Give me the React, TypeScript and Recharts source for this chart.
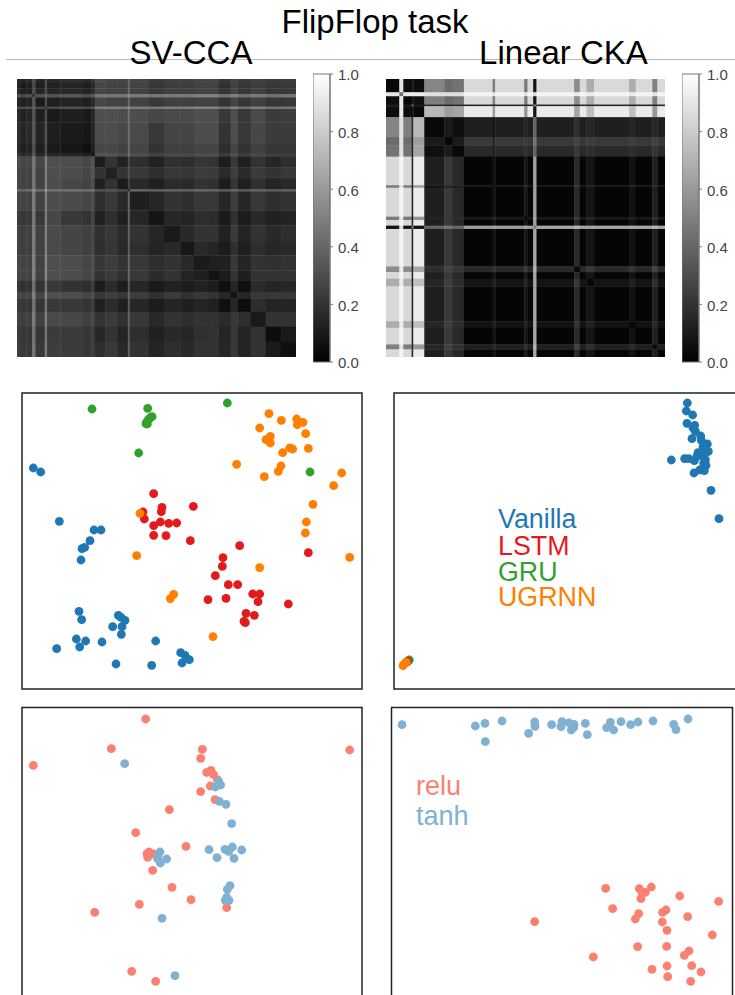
import React from "react";
import {
  ScatterChart, Scatter, XAxis, YAxis, ReferenceLine, BarChart, Bar,
} from "recharts";

// ---------- heat-map bands (in picture units along the matrix side) ----------
const ccaBands = [0, 12, 28, 45, 55, 83, 90, 130, 195, 222, 233, 265, 300, 332, 338, 395, 440, 490, 530, 575, 605, 640, 660, 700, 745, 790, 836];
const ccaUpper = [
  [16,14,16,30,15,30,16,18,16,20,30,28,28,42,28,23,26,26,28,28,21,28,23,26,23,24],
  [10,12,28,12,30,13,14,12,16,27,26,26,40,26,21,24,24,26,26,19,26,21,24,21,22],
  [12,30,14,30,15,16,14,18,28,26,26,42,26,22,25,25,26,26,20,27,21,25,21,22],
  [20,32,38,32,34,30,34,46,46,46,55,48,46,48,48,50,50,44,50,44,48,44,46],
  [10,30,12,14,12,16,28,26,26,42,26,22,25,25,26,26,20,27,21,25,21,22],
  [20,30,32,30,32,50,50,50,58,50,48,50,50,52,52,46,52,46,50,46,48],
  [10,12,10,15,31,31,30,44,30,28,29,29,31,31,22,31,22,29,23,24],
  [10,9,14,30,30,28,43,29,22,27,27,30,30,20,30,22,28,23,23],
  [6,12,28,28,26,42,27,20,25,25,27,27,18,27,20,25,21,21],
  [9,32,32,30,45,30,26,28,28,30,30,23,30,24,28,24,24],
  [11,20,13,30,18,13,19,18,21,20,11,22,12,20,15,18],
  [13,20,32,22,18,22,21,24,23,17,24,17,23,20,22],
  [10,28,16,12,17,16,20,19,11,21,12,19,14,16],
  [10,40,38,38,38,40,40,36,40,36,38,36,38],
  [12,15,20,18,22,22,15,24,15,22,18,20],
  [8,15,14,18,17,10,19,11,16,13,14],
  [10,16,20,20,13,23,14,20,16,18],
  [9,16,14,11,19,12,18,15,16],
  [10,12,13,22,14,20,19,20],
  [7,11,20,12,20,20,20],
  [6,15,6,17,14,15],
  [8,15,22,22,22],
  [5,18,14,14],
  [10,20,20],
  [5,10],
  [6],
];

const ckaBands = [0, 40, 52, 77, 82, 115, 175, 200, 234, 320, 328, 415, 425, 442, 452, 565, 582, 602, 625, 730, 750, 800, 815, 838];
const ckaUpper = [
  [3,90,5,10,5,52,42,45,85,50,85,48,85,8,85,55,85,68,85,68,85,50,85],
  [45,92,92,92,88,88,88,96,90,96,90,96,85,96,92,96,92,96,92,96,90,96],
  [3,8,6,50,42,45,85,50,85,48,85,8,85,55,85,68,85,68,85,50,85],
  [50,8,14,14,14,14,14,14,14,14,50,14,14,14,14,14,14,14,14,14],
  [3,72,62,65,92,62,92,58,92,8,92,65,92,75,92,75,92,60,92],
  [3,10,6,12,8,12,14,12,40,12,18,12,15,12,15,12,15,12],
  [3,10,22,14,22,22,22,45,22,26,22,24,22,24,22,25,22],
  [3,16,12,16,18,16,40,16,22,16,18,16,18,16,20,16],
  [2,7,2,9,2,62,2,16,2,8,2,7,2,12,2],
  [3,7,14,7,62,7,20,7,12,7,12,7,16,7],
  [2,9,2,62,2,16,2,8,2,7,2,12,2],
  [3,9,65,9,22,9,14,9,12,9,18,9],
  [2,62,2,16,2,8,2,7,2,12,2],
  [50,65,70,65,65,65,65,65,70,65],
  [2,16,2,8,2,7,2,12,2],
  [3,16,22,16,20,16,26,16],
  [2,8,2,7,2,12,2],
  [3,8,13,8,18,8],
  [2,7,2,12,2],
  [3,7,16,7],
  [2,12,2],
  [3,12],
  [2],
];

// ---------- scatter panels (x, y) ----------
const ccaVanilla = [[70,250],[92,262],[148,410],[252,436],[273,436],[240,468],[224,488],[216,492],[213,526],[207,680],[215,705],[325,692],[333,698],[345,707],[308,726],[336,726],[334,749],[199,763],[227,769],[209,787],[140,792],[276,772],[437,769],[512,804],[525,812],[538,825],[516,835],[318,838],[425,842]];
const ccaLstm = [[431,327],[456,368],[454,381],[399,382],[403,403],[451,412],[431,423],[476,416],[500,415],[550,365],[431,452],[468,453],[541,468],[689,483],[639,519],[637,545],[616,573],[655,600],[683,600],[895,504],[728,628],[749,628],[744,651],[835,658],[594,645],[648,641],[708,686],[733,692],[702,710],[706,714]];
const ccaGru = [[246,73],[413,71],[652,55],[426,96],[420,100],[415,105],[410,112],[408,117],[412,118],[386,205],[900,262]];
const ccaUgrnn = [[777,87],[814,107],[860,103],[879,113],[862,120],[749,130],[887,147],[781,155],[768,165],[776,163],[781,175],[895,191],[839,190],[848,193],[818,204],[813,244],[805,260],[680,239],[763,276],[995,265],[971,303],[909,359],[889,412],[886,445],[390,386],[380,513],[1019,518],[749,549],[491,629],[481,642],[609,756]];

const ckaVanilla = [[921,55],[918,79],[937,91],[920,116],[943,122],[938,130],[945,140],[961,154],[935,162],[963,167],[981,178],[968,186],[984,200],[953,204],[975,205],[964,212],[950,215],[873,226],[913,222],[925,222],[942,228],[975,225],[970,235],[977,242],[968,250],[958,256],[941,265],[992,317],[1016,402],[972,258]];
const ckaLstm = [[82,830],[76,835]];
const ckaGru = [[87,826],[83,829]];
const ckaUgrnn = [[68,843],[72,838],[78,833]];

const ccaRelu = [[407,58],[304,147],[577,149],[572,176],[70,197],[1019,151],[590,218],[603,212],[610,224],[622,240],[601,259],[572,276],[615,300],[478,330],[377,399],[528,440],[411,462],[417,457],[430,463],[413,473],[428,512],[486,563],[543,600],[388,614],[254,638],[650,624],[365,815],[437,845]];
const ccaTanh = [[344,192],[626,245],[632,256],[616,262],[628,305],[648,314],[665,372],[597,450],[645,449],[656,455],[667,442],[695,451],[621,474],[672,476],[450,457],[444,470],[470,478],[451,490],[443,478],[660,558],[652,569],[650,593],[657,602],[646,602],[456,656],[495,828]];

const ckaTanh = [[67,75],[287,79],[316,71],[367,64],[317,126],[447,101],[465,67],[466,80],[516,75],[547,66],[544,81],[568,70],[583,74],[582,83],[575,91],[617,71],[623,105],[681,84],[692,68],[702,91],[724,66],[753,75],[775,67],[820,64],[882,74],[889,90],[925,58]];
const ckaRelu = [[678,566],[779,567],[815,562],[797,578],[787,577],[784,597],[900,589],[1017,605],[699,627],[777,642],[767,658],[849,638],[859,631],[848,667],[924,651],[862,692],[465,666],[998,706],[774,741],[861,740],[928,754],[914,767],[641,772],[936,798],[862,799],[817,809],[964,817],[864,831],[933,845]];

const colorbarTicks = [0, 0.2, 0.4, 0.6, 0.8, 1];
const colorbarRow = [{ name: "scale", full: 1 }];

const BLUE = "#1f78b4";
const RED = "#e31a1c";
const GREEN = "#33a02c";
const ORANGE = "#ff7f00";
const SALMON = "#fb8072";
const STEEL = "#80b1d3";
const FONT = "'Liberation Sans', Arial, sans-serif";

const toCells = (bounds: number[], upper: number[][]) => {
  const cells: any[] = [];
  const n = bounds.length - 1;
  for (let r = 0; r < n; r++) {
    for (let c = 0; c < n; c++) {
      const v = r <= c ? upper[r][c - r] : upper[c][r - c];
      cells.push({
        x: (bounds[c] + bounds[c + 1]) / 2,
        y: (bounds[r] + bounds[r + 1]) / 2,
        w: bounds[c + 1] - bounds[c],
        h: bounds[r + 1] - bounds[r],
        v,
      });
    }
  }
  return cells;
};

const toPoints = (pairs: number[][]) => pairs.map(([x, y]) => ({ x, y }));

function Heatmap({ left, top, bounds, upper, diag, diagOpacity }: any) {
  const W = 279;
  const H = 278;
  const total = bounds[bounds.length - 1];
  const shape = (p: any) => {
    const { cx, cy, payload } = p;
    const w = (payload.w * W) / total;
    const h = (payload.h * H) / total;
    const g = Math.round(payload.v * 2.55);
    return (
      <rect
        x={cx - w / 2}
        y={cy - h / 2}
        width={w + 0.4}
        height={h + 0.4}
        fill={`rgb(${g},${g},${g})`}
      />
    );
  };
  return (
    <div style={{ position: "absolute", left, top, width: W, height: H, filter: "blur(0.45px)" }}>
      <ScatterChart width={W} height={H} margin={{ top: 0, right: 0, bottom: 0, left: 0 }}>
        <XAxis type="number" dataKey="x" domain={[0, total]} hide />
        <YAxis type="number" dataKey="y" domain={[0, total]} reversed hide />
        <Scatter data={toCells(bounds, upper)} shape={shape} isAnimationActive={false} />
        <ReferenceLine
          segment={[{ x: 0, y: 0 }, { x: total, y: total }]}
          stroke={diag}
          strokeOpacity={diagOpacity}
          strokeWidth={0.8}
        />
      </ScatterChart>
    </div>
  );
}

function Colorbar({ left, id }: any) {
  return (
    <div style={{ position: "absolute", left, top: 64, width: 62, height: 308 }}>
      <BarChart
        width={62}
        height={308}
        data={colorbarRow}
        margin={{ top: 10, right: 0, bottom: 10, left: 0 }}
        barCategoryGap={0}
      >
        <defs>
          <linearGradient id={id} x1="0" y1="0" x2="0" y2="1">
            <stop offset="0%" stopColor="#ffffff" />
            <stop offset="100%" stopColor="#000000" />
          </linearGradient>
        </defs>
        <XAxis dataKey="name" hide />
        <YAxis
          orientation="right"
          width={45}
          domain={[0, 1]}
          ticks={colorbarTicks}
          tickFormatter={(t: number) => t.toFixed(1)}
          tickSize={3}
          tickMargin={5}
          stroke="#777"
          tick={{ fill: "#444", fontSize: 15, fontFamily: FONT, textAnchor: "start", dy: 1 }}
        />
        <Bar dataKey="full" fill={`url(#${id})`} stroke="#777" strokeWidth={1} isAnimationActive={false} />
      </BarChart>
    </div>
  );
}

function Panel({ left, top, width, height, xDomain, yDomain, series }: any) {
  return (
    <div style={{ position: "absolute", left, top, width, height }}>
      <ScatterChart width={width} height={height} margin={{ top: 0, right: 0, bottom: 0, left: 0 }}>
        <XAxis type="number" dataKey="x" domain={xDomain} hide allowDataOverflow />
        <YAxis type="number" dataKey="y" domain={yDomain} reversed hide allowDataOverflow />
        {series.map((s: any, i: number) => (
          <Scatter
            key={i}
            data={toPoints(s.data)}
            isAnimationActive={false}
            shape={(p: any) => <circle cx={p.cx} cy={p.cy} r={4.4} fill={s.color} />}
          />
        ))}
      </ScatterChart>
    </div>
  );
}

const Label = ({ x, y, size, fill, children }: any) => (
  <text x={x} y={y} fontSize={size} fill={fill} fontFamily={FONT}>
    {children}
  </text>
);

export default function App() {
  return (
    <div
      style={{
        position: "absolute",
        left: 0,
        top: 0,
        width: 735,
        height: 995,
        overflow: "hidden",
        background: "#fff",
      }}
    >
      <Heatmap left={17} top={79} bounds={ccaBands} upper={ccaUpper} diag="#000" diagOpacity={0.5} />
      <Heatmap left={386} top={79} bounds={ckaBands} upper={ckaUpper} diag="#aaa" diagOpacity={0.8} />
      <Colorbar left={313} id="cbA" />
      <Colorbar left={682} id="cbB" />

      <Panel
        left={22} top={393} width={340} height={296}
        xDomain={[36, 1056]} yDomain={[25, 913]}
        series={[
          { data: ccaVanilla, color: BLUE },
          { data: ccaLstm, color: RED },
          { data: ccaGru, color: GREEN },
          { data: ccaUgrnn, color: ORANGE },
        ]}
      />
      <Panel
        left={394} top={393} width={341} height={296}
        xDomain={[41, 1064]} yDomain={[25, 913]}
        series={[
          { data: ckaVanilla, color: BLUE },
          { data: ckaGru, color: GREEN },
          { data: ckaLstm, color: RED },
          { data: ckaUgrnn, color: ORANGE },
        ]}
      />
      <Panel
        left={22} top={707} width={340} height={296}
        xDomain={[36, 1056]} yDomain={[22, 910]}
        series={[
          { data: ccaRelu, color: SALMON },
          { data: ccaTanh, color: STEEL },
        ]}
      />
      <Panel
        left={391} top={707} width={341} height={296}
        xDomain={[34, 1057]} yDomain={[22, 910]}
        series={[
          { data: ckaTanh, color: STEEL },
          { data: ckaRelu, color: SALMON },
        ]}
      />

      <svg
        width={735}
        height={995}
        style={{ position: "absolute", left: 0, top: 0, pointerEvents: "none" }}
      >
        <line x1={6} x2={735} y1={59.5} y2={59.5} stroke="#bbb" strokeWidth={1} />
        <text x={375} y={33} fontSize={33} textAnchor="middle" fill="#000" fontFamily={FONT}>FlipFlop task</text>
        <text x={191} y={64} fontSize={33} textAnchor="middle" fill="#000" fontFamily={FONT}>SV-CCA</text>
        <text x={563.5} y={64} fontSize={33} textAnchor="middle" fill="#000" fontFamily={FONT}>Linear CKA</text>

        <rect x={22} y={393} width={340} height={296} fill="none" stroke="#222" strokeWidth={1.5} />
        <rect x={394} y={393} width={342} height={296} fill="none" stroke="#222" strokeWidth={1.5} />
        <rect x={22} y={707.5} width={340} height={296} fill="none" stroke="#222" strokeWidth={1.5} />
        <rect x={391.5} y={707.5} width={341} height={296} fill="none" stroke="#222" strokeWidth={1.5} />

        <Label x={498} y={528} size={26.8} fill={BLUE}>Vanilla</Label>
        <Label x={498} y={555} size={26.8} fill={RED}>LSTM</Label>
        <Label x={498} y={581} size={26.8} fill={GREEN}>GRU</Label>
        <Label x={498} y={606} size={26.8} fill={ORANGE}>UGRNN</Label>
        <Label x={416} y={795} size={27} fill={SALMON}>relu</Label>
        <Label x={416} y={825} size={27} fill={STEEL}>tanh</Label>
      </svg>
    </div>
  );
}
